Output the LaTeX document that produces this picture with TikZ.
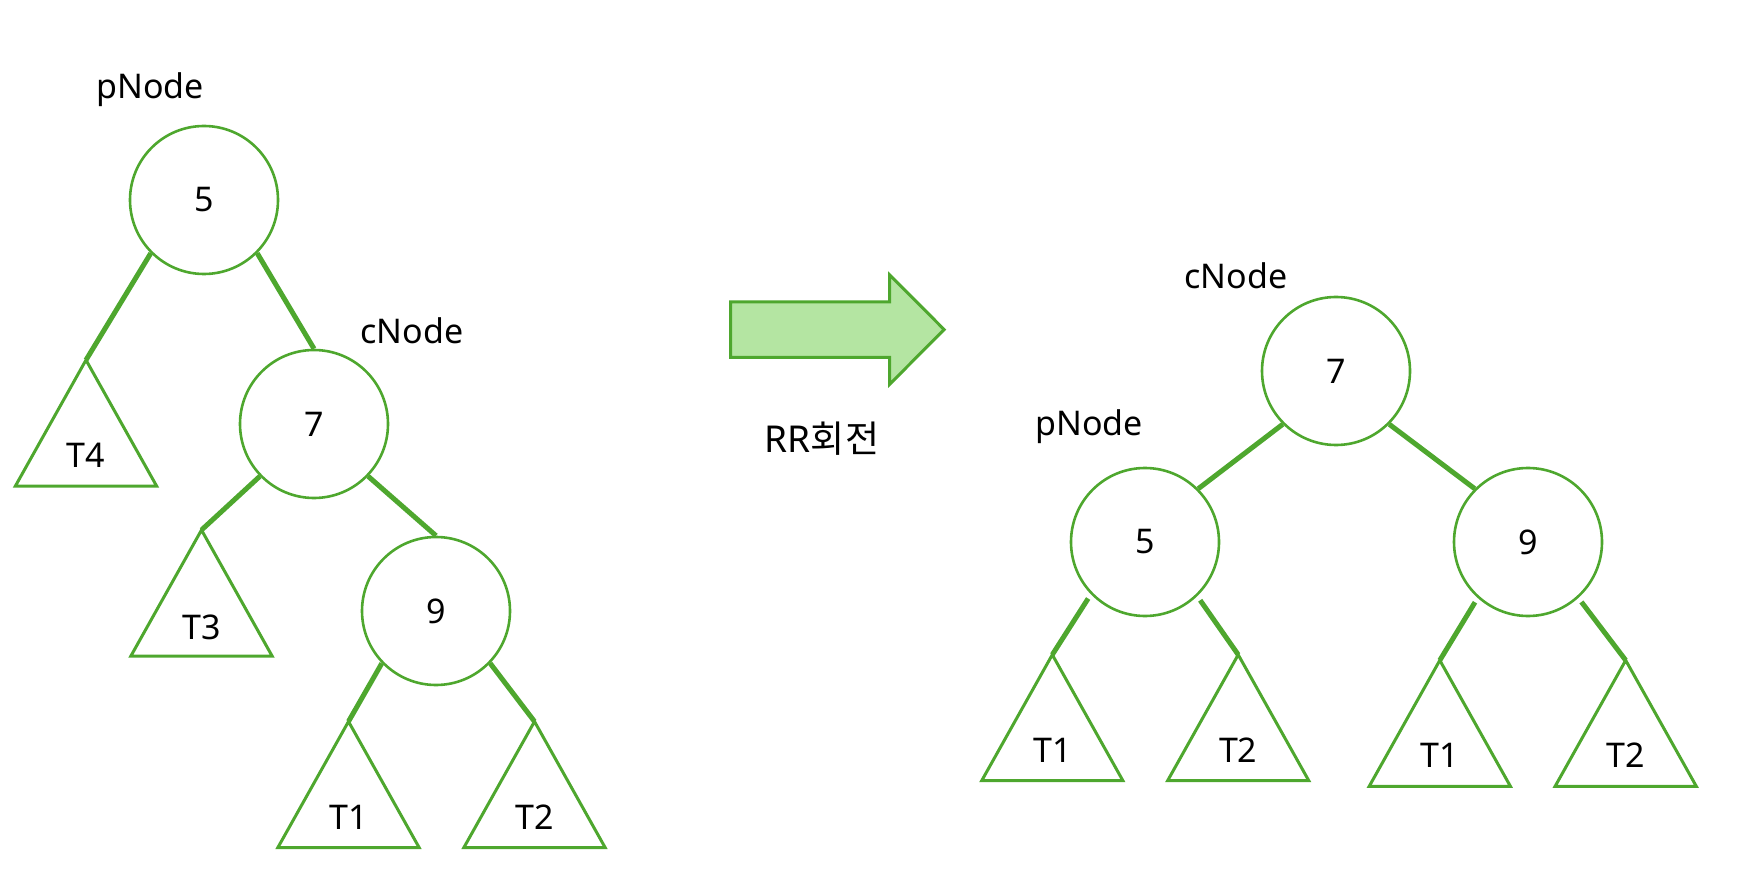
\documentclass[tikz,border=0pt]{standalone}
\usepackage{fontspec}
\setmainfont{Noto Sans}
\newfontfamily\krfont{Noto Sans CJK KR}
\definecolor{tgreen}{HTML}{4EA72E}
\definecolor{afill}{HTML}{B4E5A2}
\begin{document}
\begin{tikzpicture}[x=1pt,y=-1pt,
  circ/.style={circle,draw=tgreen,line width=2.6pt,minimum size=148pt,inner sep=0pt,font=\fontsize{34}{36}\selectfont},
  edge/.style={draw=tgreen,line width=5pt},
  gapedge/.style={edge,shorten <=5pt},
  tri/.style={draw=tgreen,line width=3pt,line join=miter},
  lbl/.style={font=\fontsize{34}{36}\selectfont,inner sep=0pt},
  arr/.style={draw=tgreen,fill=afill,line width=3pt,line join=miter}]
\useasboundingbox (0,0) rectangle (1746,890);
% ---------- left tree ----------
\node[lbl] (pL) at (150,89.5) {pNode};
\node[lbl] (cL) at (412,331) {cNode};
\node[circ] (c5L) at (204,200) {5};
\node[circ] (c7L) at (314,424) {7};
\node[circ] (c9L) at (436,611) {9};
\coordinate (t4) at (86,360);
\coordinate (t3) at (201.5,530);
\coordinate (t1L) at (348.5,721.5);
\coordinate (t2L) at (534.5,721.5);
\foreach \t in {t4,t3,t1L,t2L}{
  \draw[tri] (\t) -- ++(-70.6,126) -- ++(141.2,0) -- cycle;}
\node[lbl] (lt4) at (86,455.5) {T4};
\node[lbl] (lt3) at (201.5,627) {T3};
\node[lbl] (lt1L) at (348.5,817) {T1};
\node[lbl] (lt2L) at (534.5,817) {T2};
\draw[edge] (c5L.-135) -- (t4);
\draw[edge] (c5L.-45) -- (c7L.north);
\draw[edge] (c7L.-136) -- (t3);
\draw[edge] (c7L.-44) -- (c9L.north);
\draw[edge] (c9L.-136) -- (t1L);
\draw[edge] (c9L.-44) -- (t2L);
% ---------- arrow ----------
\draw[arr] (730.5,302) -- (889.7,302) -- (889.7,275) -- (944.2,329.6)
  -- (889.7,384.2) -- (889.7,357.4) -- (730.5,357.4) -- cycle;
\node[lbl,font=\fontsize{37}{40}\selectfont] (rr) at (822,439) {RR{\krfont 회전}};
% ---------- right tree ----------
\node[lbl] (cR) at (1236,276) {cNode};
\node[lbl] (pR) at (1089,426.5) {pNode};
\node[circ] (c7R) at (1336,371) {7};
\node[circ] (c5R) at (1145,542) {5};
\node[circ] (c9R) at (1528,542) {9};
\coordinate (t1a) at (1052.3,654.7);
\coordinate (t2a) at (1238.2,654.7);
\coordinate (t1b) at (1439.8,660.3);
\coordinate (t2b) at (1625.7,660.3);
\foreach \t in {t1a,t2a,t1b,t2b}{
  \draw[tri] (\t) -- ++(-70.6,126) -- ++(141.2,0) -- cycle;}
\node[lbl] (lt1a) at (1052.3,750.5) {T1};
\node[lbl] (lt2a) at (1238.2,750.5) {T2};
\node[lbl] (lt1b) at (1439.8,755) {T1};
\node[lbl] (lt2b) at (1625.7,755) {T2};
\draw[edge] (c7R.-135) -- (c5R.45);
\draw[edge] (c7R.-45) -- (c9R.135);
\draw[gapedge] (c5R.-136) -- (t1a);
\draw[gapedge] (c5R.-46) -- (t2a);
\draw[gapedge] (c9R.-132) -- (t1b);
\draw[gapedge] (c9R.-48) -- (t2b);
\end{tikzpicture}
\end{document}
